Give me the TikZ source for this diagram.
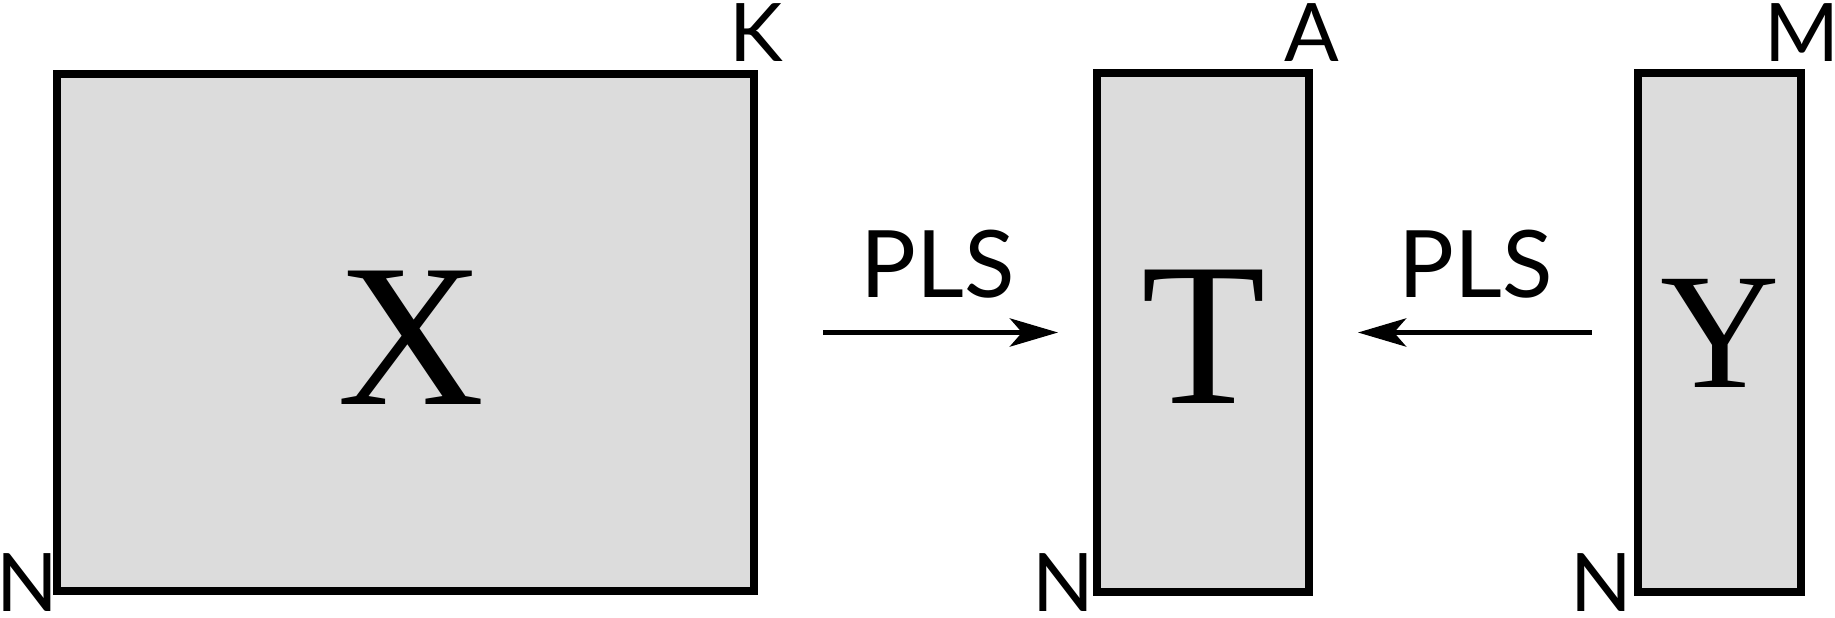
\documentclass[tikz,border=0pt]{standalone}
\usepackage{fontspec}
\setmainfont{Liberation Serif}
\newfontfamily\labelfont{Lato}
\usetikzlibrary{arrows.meta}
\definecolor{boxgray}{RGB}{220,220,220}

\begin{document}
\begin{tikzpicture}[>={Stealth[length=4.8mm, width=2.8mm, inset=1.2mm]},
  block/.style={rectangle, draw=black, fill=boxgray, line width=2.4pt, inner sep=0pt},
  bigletter/.style={font=\fontsize{58}{58}\selectfont, inner sep=0pt},
  dimlabel/.style={font=\labelfont\fontsize{23}{23}\selectfont, inner sep=0pt},
  plslabel/.style={font=\labelfont\fontsize{26.5}{26.5}\selectfont, inner sep=0pt},
  flow/.style={->, line width=1.7pt, draw=black}
]
\useasboundingbox (0,0) rectangle (18.35,6.17);
% matrices
\node[block, minimum width=6.97cm, minimum height=5.17cm] (X) at (4.055,2.845) {};
\node[block, minimum width=2.115cm, minimum height=5.195cm] (T) at (12.03,2.845) {};
\node[block, minimum width=1.63cm, minimum height=5.185cm] (Y) at (17.195,2.845) {};
\node[bigletter] (lX) at (4.11,2.795) {X};
\node[bigletter] (lT) at (12.04,2.80) {T};
\node[bigletter, font=\fontsize{47}{47}\selectfont] (lY) at (17.20,2.835) {Y};
% dimensions
\node[dimlabel] (kX) at (7.565,5.84) {K};
\node[dimlabel] (nX) at (0.27,0.34) {N};
\node[dimlabel] (aT) at (13.12,5.84) {A};
\node[dimlabel] (nT) at (10.63,0.34) {N};
\node[dimlabel] (mY) at (18.02,5.84) {M};
\node[dimlabel] (nY) at (16.01,0.34) {N};
% regression arrows
\draw[flow, shorten <=0.65cm, shorten >=0.35cm] (X) -- (T);
\draw[flow, shorten <=0.42cm, shorten >=0.45cm] (Y) -- (T);
\node[plslabel] (plsX) at (9.375,3.525) {PLS};
\node[plslabel] (plsY) at (14.76,3.525) {PLS};
\end{tikzpicture}
\end{document}
